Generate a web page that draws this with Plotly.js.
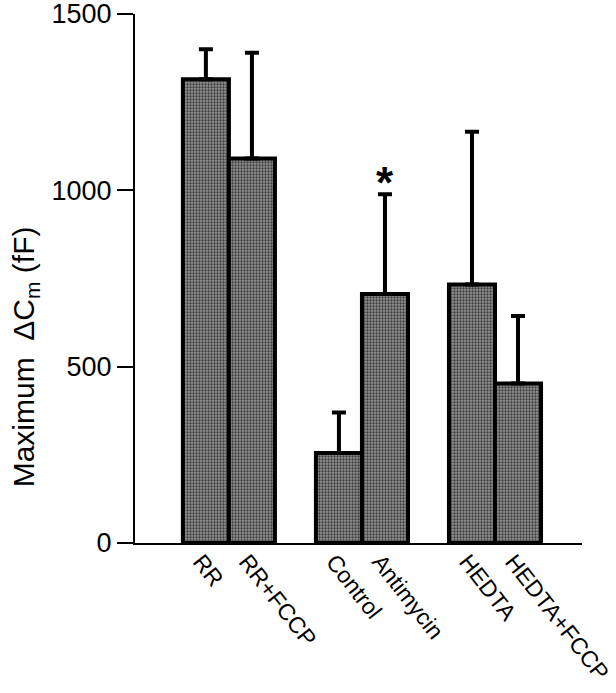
<!DOCTYPE html>
<html>
<head>
<meta charset="utf-8">
<script src="https://cdn.plot.ly/plotly-3.0.1.min.js"></script>
<style>
  html, body { margin: 0; padding: 0; background: #fff; }
  #chart { width: 616px; height: 693px; }
</style>
</head>
<body>
<div id="chart"></div>
<script>
// data
var labels = ['RR', 'RR+FCCP', 'Control', 'Antimycin', 'HEDTA', 'HEDTA+FCCP'];
var groupOf = [0, 0, 1, 1, 2, 2];
var means = [1315, 1090, 255, 706, 733, 452];
var upper = [1400, 1390, 370, 989, 1166, 644];
var marks = ['', '', '', '*', '', ''];

var GROUP_STEP = 2.89; // bars within a group touch, groups are spread apart

var xpos = [];
var errPlus = [];
var errMinus = [];
for (var i = 0; i < labels.length; i++) {
    var first = groupOf.indexOf(groupOf[i]);
    xpos.push(groupOf[i] * GROUP_STEP + (i - first));
    errPlus.push(upper[i] - means[i]);
    errMinus.push(0);
}

var font = 'Liberation Sans, Arial, Helvetica, sans-serif';

var trace1 = {
    type: 'bar',
    x: xpos,
    y: means,
    width: 1,
    marker: {
        color: '#808080',
        line: { color: '#000', width: 4 },
        pattern: { shape: '.', size: 3, solidity: 0.45, fgcolor: '#3c3c3c', bgcolor: '#929292' }
    },
    error_y: {
        type: 'data',
        symmetric: false,
        array: errPlus,
        arrayminus: errMinus,
        color: '#000',
        thickness: 4,
        width: 7
    },
    hoverinfo: 'x+y'
};

var annotations = [];
for (var j = 0; j < marks.length; j++) {
    if (marks[j]) {
        annotations.push({
            x: xpos[j], y: upper[j], xref: 'x', yref: 'y',
            text: '<b>' + marks[j] + '</b>', showarrow: false,
            xanchor: 'center', yanchor: 'bottom', yshift: -15,
            font: { family: font, size: 44, color: '#000' }
        });
    }
}
annotations.push({
    xref: 'paper', yref: 'paper', x: -0.246, y: 0.351,
    xanchor: 'center', yanchor: 'middle', textangle: -90,
    text: 'Maximum  \u0394C<sub>m</sub> (fF)', showarrow: false,
    font: { family: font, size: 30, color: '#000' }
});

var layout = {
    width: 616,
    height: 693,
    margin: { l: 135, r: 34, t: 14, b: 150 },
    paper_bgcolor: '#fff',
    plot_bgcolor: '#fff',
    showlegend: false,
    font: { family: font, color: '#000' },
    xaxis: {
        range: [-1.54, 8.17],
        tickvals: xpos,
        ticktext: labels,
        tickangle: 52,
        ticks: '',
        ticklabelshift: -5,
        ticklabelstandoff: -6,
        ticklabeloverflow: 'allow',
        showline: true,
        linecolor: '#000',
        linewidth: 2,
        showgrid: false,
        zeroline: false,
        tickfont: { family: font, size: 23, color: '#000' }
    },
    yaxis: {
        range: [0, 1500],
        tickvals: [0, 500, 1000, 1500],
        ticks: 'outside',
        ticklen: 16,
        tickwidth: 2,
        tickcolor: '#000',
        ticklabeloverflow: 'allow',
        showline: true,
        linecolor: '#000',
        linewidth: 2,
        showgrid: false,
        zeroline: false,
        tickfont: { family: font, size: 27, color: '#000' }
    },
    annotations: annotations
};

Plotly.newPlot('chart', [trace1], layout, { displayModeBar: false, staticPlot: true });
</script>
</body>
</html>
